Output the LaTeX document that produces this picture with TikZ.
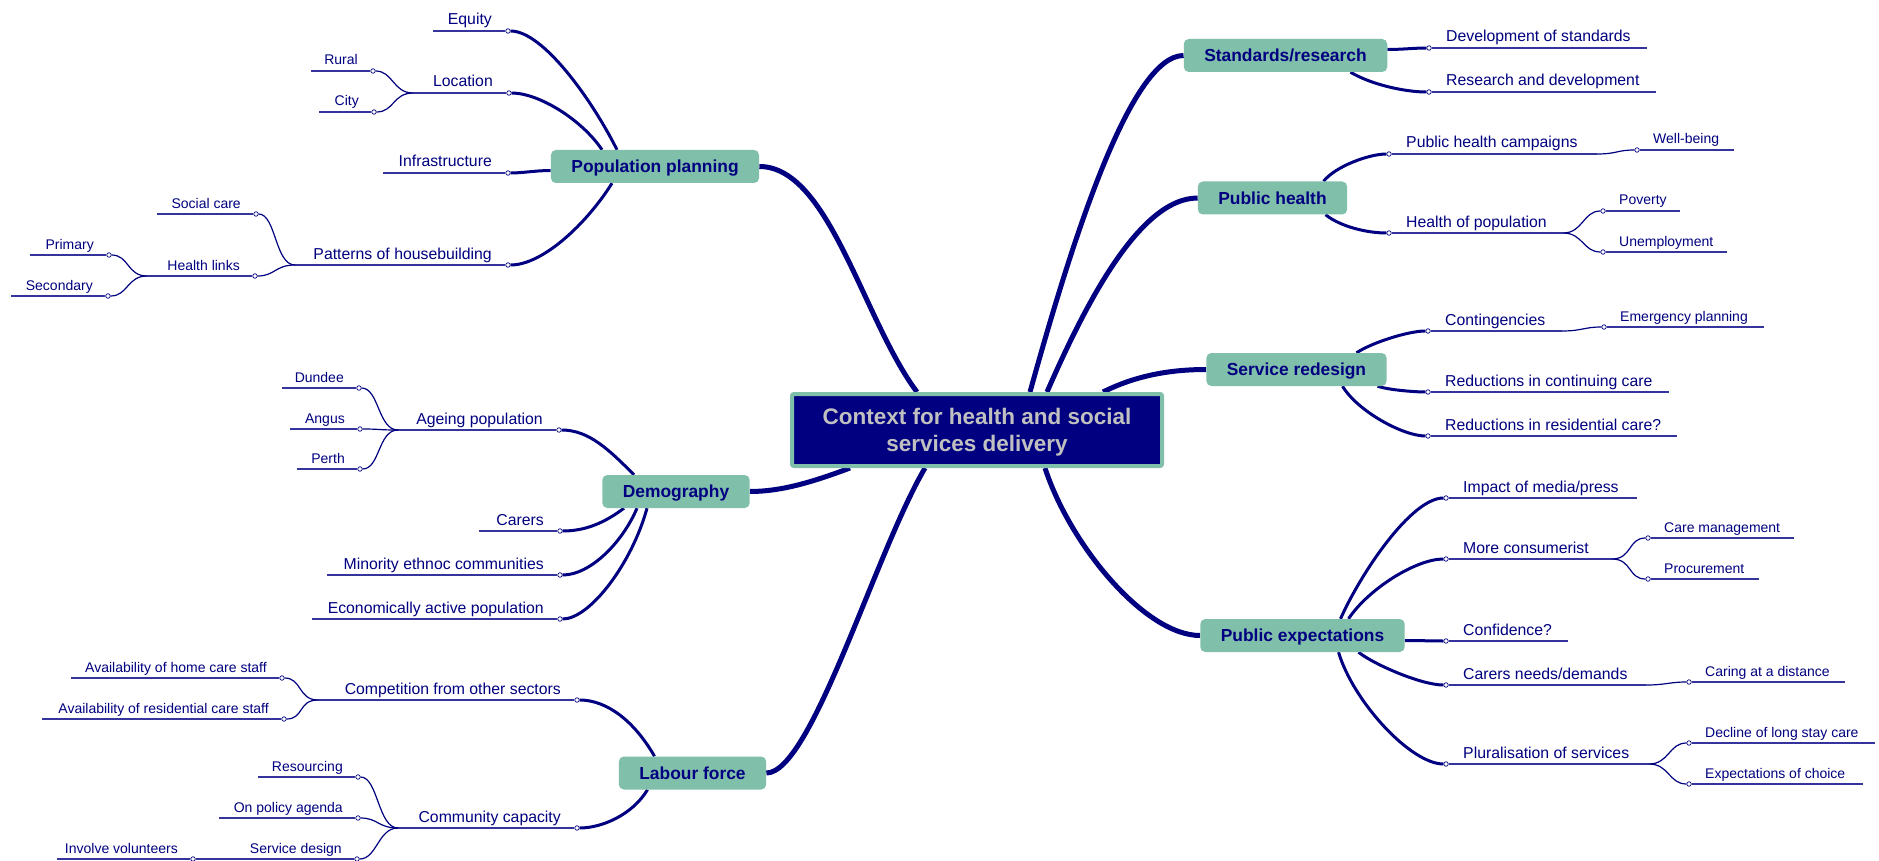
\documentclass[tikz,border=0pt]{standalone}
\usepackage{fontspec}
\setmainfont{Liberation Sans}
\usepackage{xcolor}
\usepackage{tikz}
\usetikzlibrary{backgrounds}

\definecolor{mapnavy}{RGB}{0,0,128}
\definecolor{mapteal}{RGB}{128,191,170}
\definecolor{mapgrey}{RGB}{192,192,192}
\definecolor{mapline}{RGB}{52,52,156}

\begin{document}
\begin{tikzpicture}[x=1pt,y=-1pt,
	hub/.style={draw=mapteal,line width=4pt,rounded corners=2pt,fill=mapnavy,text=mapgrey,font=\bfseries\fontsize{22.5}{27}\selectfont,align=center,minimum width=370pt,minimum height=72pt,text height=43pt,text depth=0pt},
	branch/.style={fill=mapteal,rounded corners=5pt,text=mapnavy,font=\bfseries\fontsize{17.4}{20}\selectfont,inner xsep=20.5pt,inner ysep=0pt,minimum height=33pt,text height=12.5pt,text depth=0pt},
	one/.style={inner sep=0pt,text=mapnavy,font=\fontsize{15.8}{19}\selectfont},
	two/.style={inner sep=0pt,text=mapnavy,font=\fontsize{14}{17}\selectfont},
	lft/.style={anchor=base east},
	rgt/.style={anchor=base west},
	dot/.style={circle,draw=mapnavy,fill=white,line width=0.7pt,inner sep=0pt,minimum size=4.5pt},
	trunk/.style={draw=mapnavy,line width=5pt},
	limb/.style={draw=mapnavy,line width=3pt},
	twig/.style={draw=mapnavy,line width=1.2pt},
	uline/.style={draw=mapline,line width=1.5pt}]

		\useasboundingbox (0,0) rectangle (1879,861);

		\node[hub] (ctx) at (977,430) {Context for health and social\\services delivery};

		\node[branch] (pp) at (655,166.5) {Population planning};
		\node[branch] (dm) at (676,491.5) {Demography};
		\node[branch] (lf) at (692.5,773) {Labour force};
		\node[branch] (sr) at (1285.5,55.5) {Standards/research};
		\node[branch] (ph) at (1272.5,198) {Public health};
		\node[branch] (sd) at (1296.5,369.5) {Service redesign};
		\node[branch] (pe) at (1302.5,635.5) {Public expectations};

		% Population planning
		\node[dot] (equityc) at (508,31) {};
		\coordinate (equityL) at (433,31);
		\node[one,lft] (equity) at ([xshift=-16pt,yshift=6pt]equityc.center) {Equity};

		\node[dot] (locationc) at (509,93) {};
		\coordinate (locationJ) at (413,93);
		\node[one,lft] (location) at ([xshift=-16pt,yshift=6pt]locationc.center) {Location};
		\node[dot] (ruralc) at (373,71) {};
		\coordinate (ruralL) at (311,71);
		\node[two,lft] (rural) at ([xshift=-15pt,yshift=6pt]ruralc.center) {Rural};
		\node[dot] (cityc) at (374,112) {};
		\coordinate (cityL) at (319,112);
		\node[two,lft] (city) at ([xshift=-15pt,yshift=6pt]cityc.center) {City};

		\node[dot] (infrac) at (508,173) {};
		\coordinate (infraL) at (383,173);
		\node[one,lft] (infra) at ([xshift=-16pt,yshift=6pt]infrac.center) {Infrastructure};

		\node[dot] (housingc) at (508,265) {};
		\coordinate (housingJ) at (295,265);
		\node[one,lft] (housing) at ([xshift=-16pt,yshift=6pt]housingc.center) {Patterns of housebuilding};
		\node[dot] (socialc) at (256,214) {};
		\coordinate (socialL) at (157,214);
		\node[two,lft] (social) at ([xshift=-15pt,yshift=6pt]socialc.center) {Social care};
		\node[dot] (linksc) at (255,276) {};
		\coordinate (linksJ) at (147,276);
		\node[two,lft] (links) at ([xshift=-15pt,yshift=6pt]linksc.center) {Health links};
		\node[dot] (primaryc) at (109,255) {};
		\coordinate (primaryL) at (30,255);
		\node[two,lft] (primary) at ([xshift=-15pt,yshift=6pt]primaryc.center) {Primary};
		\node[dot] (secondc) at (108,296) {};
		\coordinate (secondL) at (11,296);
		\node[two,lft] (second) at ([xshift=-15pt,yshift=6pt]secondc.center) {Secondary};

		% Demography
		\node[dot] (ageingc) at (559,430) {};
		\coordinate (ageingJ) at (398,430);
		\node[one,lft] (ageing) at ([xshift=-16pt,yshift=6pt]ageingc.center) {Ageing population};
		\node[dot] (dundeec) at (359,388) {};
		\coordinate (dundeeL) at (282,388);
		\node[two,lft] (dundee) at ([xshift=-15pt,yshift=6pt]dundeec.center) {Dundee};
		\node[dot] (angusc) at (360,429) {};
		\coordinate (angusL) at (290,429);
		\node[two,lft] (angus) at ([xshift=-15pt,yshift=6pt]angusc.center) {Angus};
		\node[dot] (perthc) at (360,469) {};
		\coordinate (perthL) at (297,469);
		\node[two,lft] (perth) at ([xshift=-15pt,yshift=6pt]perthc.center) {Perth};

		\node[dot] (carersc) at (560,531) {};
		\coordinate (carersL) at (479,531);
		\node[one,lft] (carers) at ([xshift=-16pt,yshift=6pt]carersc.center) {Carers};
		\node[dot] (minorityc) at (560,575) {};
		\coordinate (minorityL) at (327,575);
		\node[one,lft] (minority) at ([xshift=-16pt,yshift=6pt]minorityc.center) {Minority ethnoc communities};
		\node[dot] (econc) at (560,619) {};
		\coordinate (econL) at (312,619);
		\node[one,lft] (econ) at ([xshift=-16pt,yshift=6pt]econc.center) {Economically active population};

		% Labour force
		\node[dot] (competc) at (577,700) {};
		\coordinate (competJ) at (318,700);
		\node[one,lft] (compet) at ([xshift=-16pt,yshift=6pt]competc.center) {Competition from other sectors};
		\node[dot] (homec) at (282,678) {};
		\coordinate (homeL) at (71,678);
		\node[two,lft] (home) at ([xshift=-15pt,yshift=6pt]homec.center) {Availability of home care staff};
		\node[dot] (resic) at (284,719) {};
		\coordinate (resiL) at (42,719);
		\node[two,lft] (resi) at ([xshift=-15pt,yshift=6pt]resic.center) {Availability of residential care staff};

		\node[dot] (commc) at (577,828) {};
		\coordinate (commJ) at (398,828);
		\node[one,lft] (comm) at ([xshift=-16pt,yshift=6pt]commc.center) {Community capacity};
		\node[dot] (resourcec) at (358,777) {};
		\coordinate (resourceL) at (258,777);
		\node[two,lft] (resource) at ([xshift=-15pt,yshift=6pt]resourcec.center) {Resourcing};
		\node[dot] (policyc) at (358,818) {};
		\coordinate (policyL) at (219,818);
		\node[two,lft] (policy) at ([xshift=-15pt,yshift=6pt]policyc.center) {On policy agenda};
		\node[dot] (designc) at (357,859) {};
		\node[two,lft] (design) at ([xshift=-15pt,yshift=6pt]designc.center) {Service design};
		\node[dot] (volunteerc) at (193,859) {};
		\coordinate (volunteerL) at (57,859);
		\node[two,lft] (volunteer) at ([xshift=-15pt,yshift=6pt]volunteerc.center) {Involve volunteers};

		% Standards/research
		\node[dot] (devstdc) at (1429,48) {};
		\coordinate (devstdR) at (1647,48);
		\node[one,rgt] (devstd) at ([xshift=17pt,yshift=6pt]devstdc.center) {Development of standards};
		\node[dot] (researchc) at (1429,92) {};
		\coordinate (researchR) at (1656,92);
		\node[one,rgt] (research) at ([xshift=17pt,yshift=6pt]researchc.center) {Research and development};

		% Public health
		\node[dot] (campaignc) at (1389,154) {};
		\coordinate (campaignJ) at (1597,154);
		\node[one,rgt] (campaign) at ([xshift=17pt,yshift=6pt]campaignc.center) {Public health campaigns};
		\node[dot] (wellc) at (1637,150) {};
		\coordinate (wellR) at (1734,150);
		\node[two,rgt] (well) at ([xshift=16pt,yshift=6pt]wellc.center) {Well-being};
		\node[dot] (popc) at (1389,233) {};
		\coordinate (popJ) at (1563,233);
		\node[one,rgt] (pop) at ([xshift=17pt,yshift=6pt]popc.center) {Health of population};
		\node[dot] (povertyc) at (1603,211) {};
		\coordinate (povertyR) at (1680,211);
		\node[two,rgt] (poverty) at ([xshift=16pt,yshift=6pt]povertyc.center) {Poverty};
		\node[dot] (unempc) at (1603,252) {};
		\coordinate (unempR) at (1727,252);
		\node[two,rgt] (unemp) at ([xshift=16pt,yshift=6pt]unempc.center) {Unemployment};

		% Service redesign
		\node[dot] (contingc) at (1428,331) {};
		\coordinate (contingJ) at (1562,331);
		\node[one,rgt] (conting) at ([xshift=17pt,yshift=6pt]contingc.center) {Contingencies};
		\node[dot] (emergc) at (1604,327) {};
		\coordinate (emergR) at (1764,327);
		\node[two,rgt] (emerg) at ([xshift=16pt,yshift=6pt]emergc.center) {Emergency planning};
		\node[dot] (contcarec) at (1428,392) {};
		\coordinate (contcareR) at (1669,392);
		\node[one,rgt] (contcare) at ([xshift=17pt,yshift=6pt]contcarec.center) {Reductions in continuing care};
		\node[dot] (rescarec) at (1428,436) {};
		\coordinate (rescareR) at (1677,436);
		\node[one,rgt] (rescare) at ([xshift=17pt,yshift=6pt]rescarec.center) {Reductions in residential care?};

		% Public expectations
		\node[dot] (mediac) at (1446,498) {};
		\coordinate (mediaR) at (1637,498);
		\node[one,rgt] (media) at ([xshift=17pt,yshift=6pt]mediac.center) {Impact of media/press};
		\node[dot] (consumc) at (1446,559) {};
		\coordinate (consumJ) at (1612,559);
		\node[one,rgt] (consum) at ([xshift=17pt,yshift=6pt]consumc.center) {More consumerist};
		\node[dot] (caremc) at (1648,538) {};
		\coordinate (caremR) at (1794,538);
		\node[two,rgt] (carem) at ([xshift=16pt,yshift=6pt]caremc.center) {Care management};
		\node[dot] (procurec) at (1648,579) {};
		\coordinate (procureR) at (1759,579);
		\node[two,rgt] (procure) at ([xshift=16pt,yshift=6pt]procurec.center) {Procurement};
		\node[dot] (confidc) at (1446,641) {};
		\coordinate (confidR) at (1568,641);
		\node[one,rgt] (confid) at ([xshift=17pt,yshift=6pt]confidc.center) {Confidence?};
		\node[dot] (needsc) at (1446,685) {};
		\coordinate (needsJ) at (1646,685);
		\node[one,rgt] (needs) at ([xshift=17pt,yshift=6pt]needsc.center) {Carers needs/demands};
		\node[dot] (distc) at (1689,682) {};
		\coordinate (distR) at (1845,682);
		\node[two,rgt] (dist) at ([xshift=16pt,yshift=6pt]distc.center) {Caring at a distance};
		\node[dot] (pluralc) at (1446,764) {};
		\coordinate (pluralJ) at (1649,764);
		\node[one,rgt] (plural) at ([xshift=17pt,yshift=6pt]pluralc.center) {Pluralisation of services};
		\node[dot] (declinec) at (1689,743) {};
		\coordinate (declineR) at (1875,743);
		\node[two,rgt] (decline) at ([xshift=16pt,yshift=6pt]declinec.center) {Decline of long stay care};
		\node[dot] (choicec) at (1689,784) {};
		\coordinate (choiceR) at (1863,784);
		\node[two,rgt] (choice) at ([xshift=16pt,yshift=6pt]choicec.center) {Expectations of choice};

		\begin{scope}[on background layer]
		\fill[white] (0,0) rectangle (1879,861);

		% centre to main topics
		\draw[trunk] ([xshift=-60pt]ctx.north) .. controls +(-54,-72) and +(70,0) .. (pp.east);
		\draw[trunk] ([xshift=-127pt]ctx.south) .. controls +(-40,15) and +(30,0) .. (dm.east);
		\draw[trunk] ([xshift=-52pt]ctx.south) .. controls +(-50,85) and +(45,0) .. (lf.east);
		\draw[trunk] ([xshift=53pt]ctx.north) .. controls +(40,-144) and +(-54,0) .. (sr.west);
		\draw[trunk] ([xshift=70pt]ctx.north) .. controls +(35,-80) and +(-60,0) .. (ph.west);
		\draw[trunk] ([xshift=126pt]ctx.north) .. controls +(30,-15) and +(-40,0) .. (sd.west);
		\draw[trunk] ([xshift=68pt]ctx.south) .. controls +(25,77) and +(-55,0) .. (pe.west);

		% main topics to subtopics
		\draw[limb] ([xshift=-38pt]pp.north) .. controls +(-25,-50) and +(35,0) .. (equityc);
		\draw[limb] ([xshift=-53pt]pp.north) .. controls +(-20,-30) and +(30,0) .. (locationc);
		\draw[limb] ([yshift=-4pt]pp.west) .. controls +(-15,0) and +(15,0) .. (infrac);
		\draw[limb] ([xshift=-43pt]pp.south) .. controls +(-25,40) and +(35,0) .. (housingc);

		\draw[limb] ([xshift=-42pt]dm.north) .. controls +(-25,-25) and +(30,0) .. (ageingc);
		\draw[limb] ([xshift=-52pt]dm.south) .. controls +(-20,15) and +(25,0) .. (carersc);
		\draw[limb] ([xshift=-39pt]dm.south) .. controls +(-15,35) and +(30,0) .. (minorityc);
		\draw[limb] ([xshift=-29pt]dm.south) .. controls +(-15,55) and +(30,0) .. (econc);

		\draw[limb] ([xshift=-38pt]lf.north) .. controls +(-20,-35) and +(30,0) .. (competc);
		\draw[limb] ([xshift=-45pt]lf.south) .. controls +(-15,25) and +(25,0) .. (commc);

		\draw[limb] ([yshift=6pt]sr.east) .. controls +(15,0) and +(-15,0) .. (devstdc);
		\draw[limb] ([xshift=65pt]sr.south) .. controls +(20,12) and +(-25,0) .. (researchc);

		\draw[limb] ([xshift=51pt]ph.north) .. controls +(12,-15) and +(-20,0) .. (campaignc);
		\draw[limb] ([xshift=53pt]ph.south) .. controls +(15,12) and +(-22,0) .. (popc);

		\draw[limb] ([xshift=60pt]sd.north) .. controls +(15,-10) and +(-20,0) .. (contingc);
		\draw[limb] ([xshift=81pt]sd.south) .. controls +(12,4) and +(-12,0) .. (contcarec);
		\draw[limb] ([xshift=46pt]sd.south) .. controls +(15,25) and +(-25,0) .. (rescarec);

		\draw[limb] ([xshift=38pt]pe.north) .. controls +(20,-45) and +(-35,0) .. (mediac);
		\draw[limb] ([xshift=46pt]pe.north) .. controls +(20,-30) and +(-30,0) .. (consumc);
		\draw[limb] ([yshift=-5pt]pe.east) .. controls +(15,0) and +(-15,0) .. (confidc);
		\draw[limb] ([xshift=56pt]pe.south) .. controls +(15,12) and +(-25,0) .. (needsc);
		\draw[limb] ([xshift=36pt]pe.south) .. controls +(15,50) and +(-35,0) .. (pluralc);

		% underlines
		\draw[uline] (equityL) -- (equityc);
		\draw[uline] (locationJ) -- (locationc);
		\draw[uline] (ruralL) -- (ruralc);
		\draw[uline] (cityL) -- (cityc);
		\draw[uline] (infraL) -- (infrac);
		\draw[uline] (housingJ) -- (housingc);
		\draw[uline] (socialL) -- (socialc);
		\draw[uline] (linksJ) -- (linksc);
		\draw[uline] (primaryL) -- (primaryc);
		\draw[uline] (secondL) -- (secondc);
		\draw[uline] (ageingJ) -- (ageingc);
		\draw[uline] (dundeeL) -- (dundeec);
		\draw[uline] (angusL) -- (angusc);
		\draw[uline] (perthL) -- (perthc);
		\draw[uline] (carersL) -- (carersc);
		\draw[uline] (minorityL) -- (minorityc);
		\draw[uline] (econL) -- (econc);
		\draw[uline] (competJ) -- (competc);
		\draw[uline] (homeL) -- (homec);
		\draw[uline] (resiL) -- (resic);
		\draw[uline] (commJ) -- (commc);
		\draw[uline] (resourceL) -- (resourcec);
		\draw[uline] (policyL) -- (policyc);
		\draw[uline] (volunteerc) -- (designc);
		\draw[uline] (volunteerL) -- (volunteerc);

		\draw[uline] (devstdc) -- (devstdR);
		\draw[uline] (researchc) -- (researchR);
		\draw[uline] (campaignc) -- (campaignJ);
		\draw[uline] (wellc) -- (wellR);
		\draw[uline] (popc) -- (popJ);
		\draw[uline] (povertyc) -- (povertyR);
		\draw[uline] (unempc) -- (unempR);
		\draw[uline] (contingc) -- (contingJ);
		\draw[uline] (emergc) -- (emergR);
		\draw[uline] (contcarec) -- (contcareR);
		\draw[uline] (rescarec) -- (rescareR);
		\draw[uline] (mediac) -- (mediaR);
		\draw[uline] (consumc) -- (consumJ);
		\draw[uline] (caremc) -- (caremR);
		\draw[uline] (procurec) -- (procureR);
		\draw[uline] (confidc) -- (confidR);
		\draw[uline] (needsc) -- (needsJ);
		\draw[uline] (distc) -- (distR);
		\draw[uline] (pluralc) -- (pluralJ);
		\draw[uline] (declinec) -- (declineR);
		\draw[uline] (choicec) -- (choiceR);

		% subtopics to details
		\draw[twig] (locationJ) .. controls +(-20,0) and +(20,0) .. (ruralc);
		\draw[twig] (locationJ) .. controls +(-20,0) and +(20,0) .. (cityc);
		\draw[twig] (housingJ) .. controls +(-20,0) and +(20,0) .. (socialc);
		\draw[twig] (housingJ) .. controls +(-20,0) and +(20,0) .. (linksc);
		\draw[twig] (linksJ) .. controls +(-20,0) and +(20,0) .. (primaryc);
		\draw[twig] (linksJ) .. controls +(-20,0) and +(20,0) .. (secondc);
		\draw[twig] (ageingJ) .. controls +(-20,0) and +(20,0) .. (dundeec);
		\draw[twig] (ageingJ) .. controls +(-20,0) and +(20,0) .. (angusc);
		\draw[twig] (ageingJ) .. controls +(-20,0) and +(20,0) .. (perthc);
		\draw[twig] (competJ) .. controls +(-20,0) and +(20,0) .. (homec);
		\draw[twig] (competJ) .. controls +(-20,0) and +(20,0) .. (resic);
		\draw[twig] (commJ) .. controls +(-20,0) and +(20,0) .. (resourcec);
		\draw[twig] (commJ) .. controls +(-20,0) and +(20,0) .. (policyc);
		\draw[twig] (commJ) .. controls +(-20,0) and +(20,0) .. (designc);

		\draw[twig] (campaignJ) .. controls +(20,0) and +(-20,0) .. (wellc);
		\draw[twig] (popJ) .. controls +(20,0) and +(-20,0) .. (povertyc);
		\draw[twig] (popJ) .. controls +(20,0) and +(-20,0) .. (unempc);
		\draw[twig] (contingJ) .. controls +(20,0) and +(-20,0) .. (emergc);
		\draw[twig] (consumJ) .. controls +(20,0) and +(-20,0) .. (caremc);
		\draw[twig] (consumJ) .. controls +(20,0) and +(-20,0) .. (procurec);
		\draw[twig] (needsJ) .. controls +(20,0) and +(-20,0) .. (distc);
		\draw[twig] (pluralJ) .. controls +(20,0) and +(-20,0) .. (declinec);
		\draw[twig] (pluralJ) .. controls +(20,0) and +(-20,0) .. (choicec);
		\end{scope}
\end{tikzpicture}
\end{document}
